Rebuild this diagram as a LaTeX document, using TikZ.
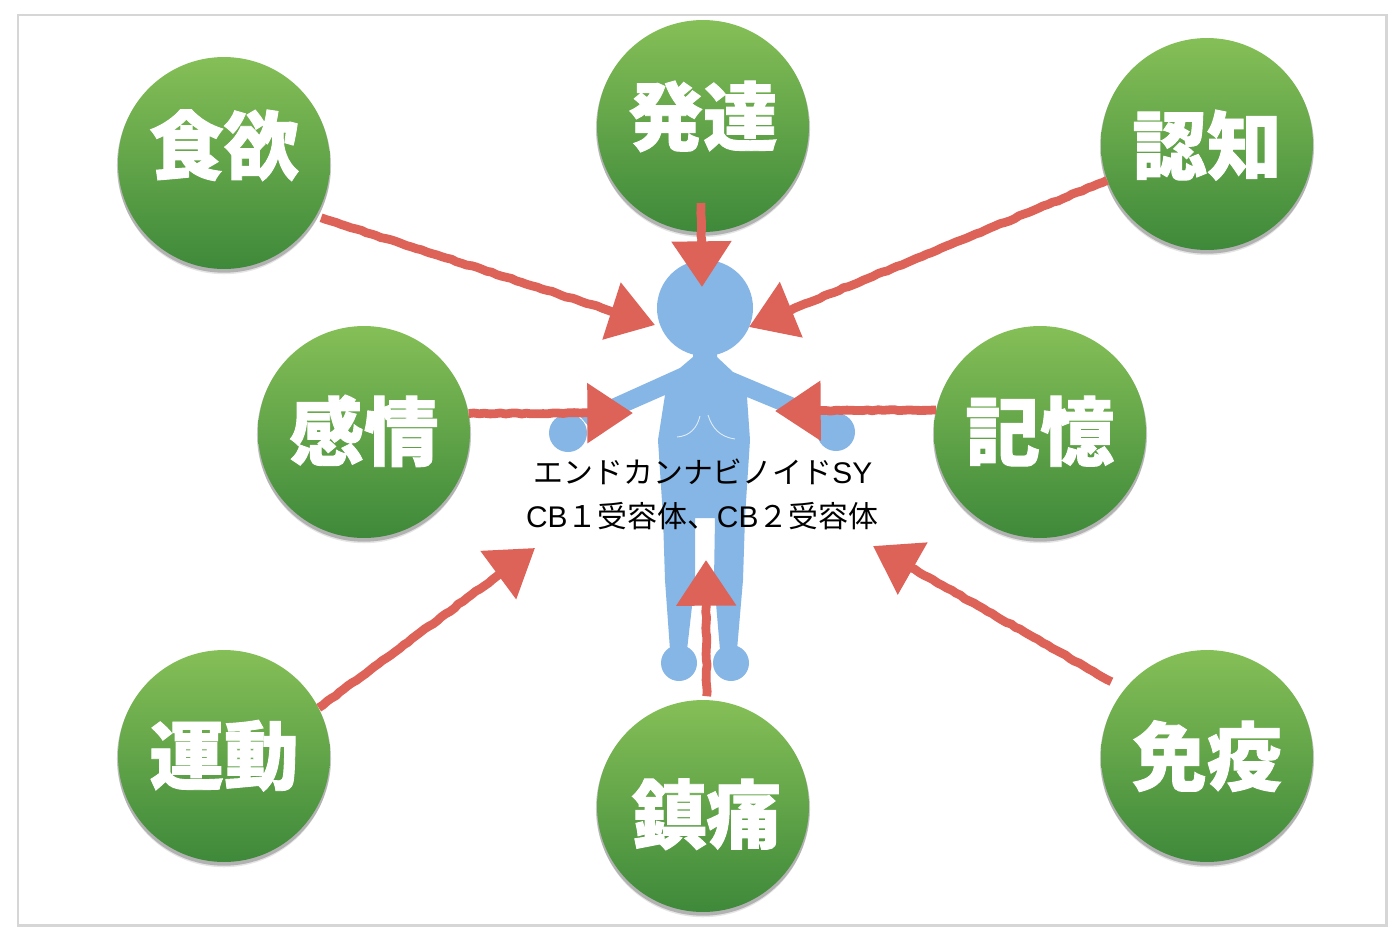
\documentclass[tikz,border=0pt]{standalone}
\usepackage{fontspec}
\setmainfont[BoldFeatures={FakeBold=1.2}]{Noto Sans CJK JP}
\newfontfamily\latinfont{Liberation Sans}
\usetikzlibrary{arrows.meta,shadows,calc,decorations.pathmorphing}
\definecolor{bubbletop}{RGB}{133,191,87}
\definecolor{bubblebottom}{RGB}{62,137,58}
\definecolor{bodyblue}{RGB}{133,182,229}
\definecolor{arrowred}{RGB}{221,98,88}
\definecolor{framegray}{RGB}{214,214,214}
\newcommand{\bubbletext}[2]{\smash{\raisebox{\dimexpr#1pt*567/1000-0.37em\relax}{#2}}}
\newcommand{\latintext}[1]{{\latinfont #1}}
\tikzset{
	bubble/.style={circle,inner sep=0pt,minimum size=4.24cm,top color=bubbletop,bottom color=bubblebottom,
		text=white,font=\fontsize{42.5pt}{42.5pt}\selectfont\bfseries,
		drop shadow={shadow xshift=0pt,shadow yshift=-3pt,opacity=.1,fill=black},
		drop shadow={shadow xshift=0pt,shadow yshift=-1.5pt,shadow scale=1.01,opacity=.22,fill=black}},
	redarrow/.style={draw=arrowred,line width=5pt,line join=round,-{Triangle[length=26pt,width=33pt]},
		decorate,decoration={random steps,segment length=3pt,amplitude=.35pt,post length=16pt}},
	chestline/.style={draw=white!75!bodyblue,line width=.5pt},
	bodytext/.style={text=black,font=\fontsize{17pt}{17pt}\selectfont,inner sep=0pt}
}
\begin{document}
\begin{tikzpicture}[x=0.02cm,y=-0.02cm]
	\useasboundingbox (0,0) rectangle (1400,934);
	\fill[white] (0,0) rectangle (1400,934);
	\draw[framegray,line width=1.7pt] (18,15) rectangle (1386,925);
	\node[bubble] (appetite) at (224,163) {\bubbletext{17}{食欲}};
	\node[bubble] (growth) at (703,126) {\bubbletext{9}{発達}};
	\node[bubble] (cognition) at (1207,144) {\bubbletext{-2}{認知}};
	\node[bubble] (emotion) at (364,432) {\bubbletext{0}{感情}};
	\node[bubble] (memory) at (1040,432) {\bubbletext{0}{記憶}};
	\node[bubble] (motion) at (224,756) {\bubbletext{0}{運動}};
	\node[bubble] (analgesia) at (703,806) {\bubbletext{-9}{\kern4pt 鎮痛}};
	\node[bubble] (immunity) at (1207,756) {\bubbletext{-1}{免疫}};
	\fill[bodyblue] (705,308) circle (48);
	\fill[bodyblue] (568,433) circle (19);
	\fill[bodyblue] (836,432) circle (19);
	\fill[bodyblue] (679,663) circle (18);
	\fill[bodyblue] (731,663) circle (18);
	\fill[bodyblue] (693,350) -- (693,357) -- (680,368) -- (578,414) -- (590,428) -- (665,395) -- (658,440) -- (663,517)
		-- (665,580) -- (670,650) -- (687,650) -- (695,580) -- (695,518) -- (715,518) -- (714,580) -- (720,650)
		-- (737,650) -- (743,580) -- (745,517) -- (750,440) -- (747,397) -- (822,428) -- (828,412) -- (733,372)
		-- (717,357) -- (717,350) -- cycle;
	\draw[chestline] (677,437) .. controls (690,436) and (697,428) .. (700,416);
	\draw[chestline] (708,415) .. controls (712,428) and (720,437) .. (735,439);
	\coordinate (appetitetip) at (655,325);
	\coordinate (growthstart) at (701,203);
	\coordinate (growthtip) at (702,287);
	\coordinate (cognitiontip) at (749,327);
	\coordinate (emotiontip) at (633,413);
	\coordinate (memorytip) at (775,411);
	\coordinate (motiontip) at (535,548);
	\coordinate (analgesiatip) at (706,560);
	\coordinate (immunitytip) at (873,546);
	\draw[redarrow] ($(appetite.-30)!3pt!(appetitetip)$) -- (appetitetip);
	\draw[redarrow] (growthstart) -- (growthtip);
	\draw[redarrow] (cognition.200) -- (cognitiontip);
	\draw[redarrow] (emotion.10) -- (emotiontip);
	\draw[redarrow] (memory.168) -- (memorytip);
	\draw[redarrow] (motion.27) -- (motiontip);
	\draw[redarrow] ($(analgesia.88)!2pt!(analgesiatip)$) -- (analgesiatip);
	\draw[redarrow] ($(immunity.141)!8.5pt!(immunitytip)$) -- (immunitytip);
	\node[bodytext] (systemtext) at (703,472) {エンドカンナビノイド\latintext{SY}};
	\node[bodytext] (receptortext) at (702,516) {\latintext{CB}１受容体、\latintext{CB}２受容体};
\end{tikzpicture}
\end{document}
